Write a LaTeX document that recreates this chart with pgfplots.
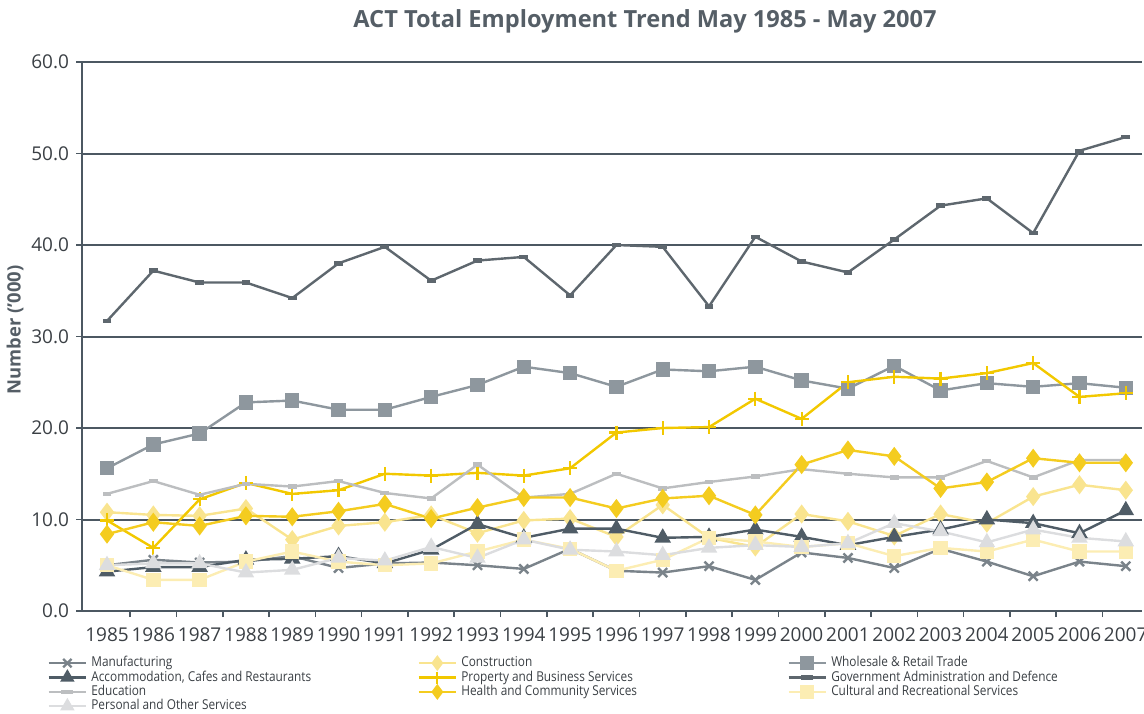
\documentclass[border=0pt]{standalone}
\usepackage{pgfplots}
\usepackage{pgfplotstable}
\pgfplotsset{compat=1.18}
\usepackage{fontspec}
\setmainfont{Open Sans}
\newfontfamily\condfont[FakeStretch=0.87]{Open Sans}

\definecolor{cManu}{HTML}{7A838A}
\definecolor{cCons}{HTML}{F9E48F}
\definecolor{cWhol}{HTML}{8E979E}
\definecolor{cAcco}{HTML}{4F5C66}
\definecolor{cProp}{HTML}{F2C800}
\definecolor{cGovt}{HTML}{5E676E}
\definecolor{cEduc}{HTML}{BCBEC0}
\definecolor{cHeal}{HTML}{F4CC1F}
\definecolor{cCult}{HTML}{FCEDB3}
\definecolor{cPers}{HTML}{DCDDDF}
\definecolor{cGrid}{HTML}{4C5862}
\definecolor{cTitle}{HTML}{555E66}
\definecolor{cText}{HTML}{3A3F44}

\pgfplotstableread{
year manu cons whol acco prop govt educ heal cult pers
1985 5.0 10.8 15.6 4.3 9.9 31.7 12.8 8.4 5.0 5.0
1986 5.6 10.5 18.2 4.8 6.9 37.2 14.2 9.7 3.4 5.2
1987 5.3 10.4 19.4 4.8 12.2 35.9 12.7 9.3 3.4 5.2
1988 5.4 11.2 22.8 5.6 14.0 35.9 13.9 10.4 5.4 4.2
1989 6.0 7.8 23.0 5.7 12.8 34.2 13.6 10.3 6.5 4.5
1990 4.7 9.3 22.0 6.0 13.2 38.0 14.2 10.9 5.4 5.8
1991 5.2 9.7 22.0 5.2 15.0 39.8 12.9 11.7 5.0 5.5
1992 5.3 10.5 23.4 6.7 14.8 36.1 12.3 10.1 5.2 7.0
1993 5.0 8.5 24.7 9.5 15.1 38.3 16.0 11.3 6.5 5.8
1994 4.6 9.9 26.7 8.0 14.8 38.7 12.4 12.4 7.8 7.8
1995 6.8 10.1 26.0 9.0 15.6 34.5 12.8 12.4 6.8 6.7
1996 4.4 8.1 24.5 9.0 19.5 40.0 15.0 11.2 4.4 6.5
1997 4.2 11.6 26.4 8.0 20.0 39.8 13.4 12.3 5.6 6.1
1998 4.9 8.0 26.2 8.1 20.1 33.3 14.1 12.6 8.0 6.9
1999 3.4 7.0 26.7 8.9 23.2 40.9 14.7 10.5 7.6 7.2
2000 6.4 10.6 25.2 8.1 21.0 38.2 15.5 16.0 7.0 7.0
2001 5.8 9.8 24.3 7.2 25.0 37.0 15.0 17.6 7.4 7.4
2002 4.7 8.2 26.8 8.1 25.6 40.6 14.6 16.9 6.0 9.6
2003 6.8 10.6 24.1 8.9 25.4 44.3 14.6 13.4 6.9 8.7
2004 5.4 9.6 24.9 10.0 26.0 45.1 16.4 14.1 6.5 7.5
2005 3.8 12.5 24.5 9.6 27.1 41.3 14.6 16.7 7.8 8.9
2006 5.4 13.8 24.9 8.5 23.4 50.3 16.5 16.2 6.5 8.0
2007 4.9 13.2 24.4 11.0 23.8 51.8 16.5 16.2 6.5 7.6
}\datatable

\newcommand{\lgent}[1]{\makebox[161pt][l]{\condfont #1}}

\begin{document}
\begin{tikzpicture}
\useasboundingbox (0,0) rectangle (572pt,356.5pt);
\node[font=\fontsize{11.8}{14}\selectfont\bfseries, text=cTitle] at (322.5pt,346pt) {ACT Total Employment Trend May 1985 - May 2007};
\node[font=\fontsize{9.2}{11}\selectfont\bfseries, text=cTitle, rotate=90] at (7.5pt,191.5pt) {Number ('000)};
\begin{axis}[
  at={(41pt,51pt)}, anchor=south west,
  scale only axis, width=530pt, height=274.5pt,
  xmin=1984.46, xmax=2007.35, ymin=0, ymax=60,
  axis lines=left,
  axis line style={-, draw=cGrid, line width=1pt},
  ymajorgrids, grid style={draw=cGrid, line width=1pt},
  ytick={0,10,...,60},
  yticklabel style={/pgf/number format/.cd, fixed, fixed zerofill, precision=1, assume math mode=true},
  xtick={1985,...,2007},
  xticklabels={1985,1986,1987,1988,1989,1990,1991,1992,1993,1994,1995,1996,1997,1998,1999,2000,2001,2002,2003,2004,2005,2006,2007},
  minor xtick={1985.5,1986.5,...,2006.5},
  major x tick style={draw=none},
  minor tick length=3pt, major tick length=3pt,
  tick align=outside,
  tick style={draw=cGrid, line width=0.8pt},
  ticklabel style={font=\fontsize{9.5}{11}\selectfont, text=cText},
  xticklabel style={yshift=-2pt},
  every axis plot/.append style={line width=1.2pt},
  legend columns=3,
  legend cell align=left,
  legend style={at={(axis description cs:0,0)}, anchor=north west, xshift=-20.5pt, yshift=-18.5pt,
    draw=none, fill=none, row sep=-3.5pt, font=\fontsize{6.8}{8}\selectfont, text=cText,
    /tikz/every even column/.append style={column sep=0pt}},
  legend image code/.code={\draw[mark repeat=2, mark phase=2, mark size=3pt] plot coordinates {(0cm,0cm) (0.33cm,0cm) (0.66cm,0cm)};},
]
\addplot[cManu, mark=x, mark size=3.2pt, mark options={line width=1.2pt}] table[x=year,y=manu]{\datatable};
\addlegendentry{\lgent{Manufacturing}}
\addplot[cCons, mark=diamond*, mark size=3.8pt] table[x=year,y=cons]{\datatable};
\addlegendentry{\lgent{Construction}}
\addplot[cWhol, mark=square*, mark size=3pt] table[x=year,y=whol]{\datatable};
\addlegendentry{\lgent{Wholesale \& Retail Trade}}
\addplot[cAcco, mark=triangle*, mark size=3.6pt] table[x=year,y=acco]{\datatable};
\addlegendentry{\lgent{Accommodation, Cafes and Restaurants}}
\addplot[cProp, mark=+, mark size=3.5pt, mark options={line width=1.1pt}] table[x=year,y=prop]{\datatable};
\addlegendentry{\lgent{Property and Business Services}}
\addplot[cGovt, mark=-, mark size=2.2pt, mark options={line width=2.2pt}] table[x=year,y=govt]{\datatable};
\addlegendentry{\lgent{Government Administration and Defence}}
\addplot[cEduc, mark=-, mark size=2.2pt, mark options={line width=2.2pt}] table[x=year,y=educ]{\datatable};
\addlegendentry{\lgent{Education}}
\addplot[cHeal, mark=diamond*, mark size=3.8pt] table[x=year,y=heal]{\datatable};
\addlegendentry{\lgent{Health and Community Services}}
\addplot[cCult, mark=square*, mark size=3pt] table[x=year,y=cult]{\datatable};
\addlegendentry{\lgent{Cultural and Recreational Services}}
\addplot[cPers, mark=triangle*, mark size=3.6pt] table[x=year,y=pers]{\datatable};
\addlegendentry{\lgent{Personal and Other Services}}
\end{axis}
\end{tikzpicture}
\end{document}
